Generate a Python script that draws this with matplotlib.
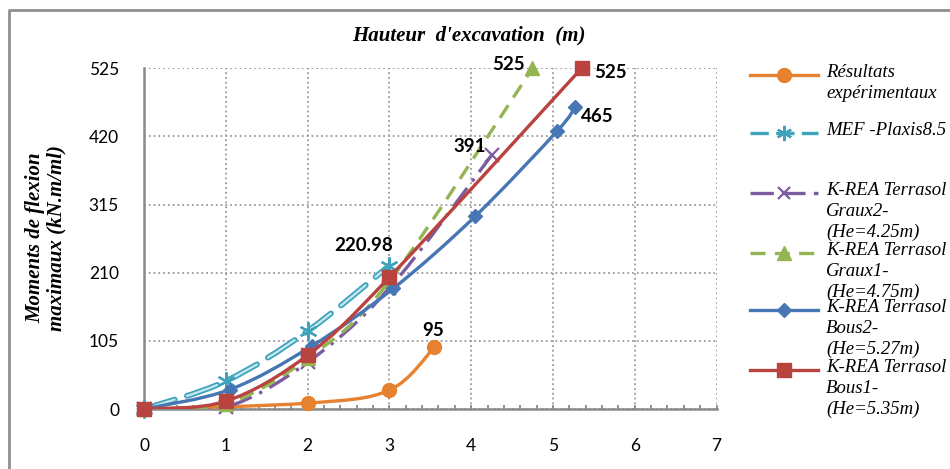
import numpy as np
import matplotlib
matplotlib.use('Agg')
import matplotlib.pyplot as plt
from matplotlib.path import Path
from matplotlib.patches import PathPatch
from matplotlib.lines import Line2D
from matplotlib.ticker import MultipleLocator

# %% data
exp_x = [0, 2, 3, 3.55]
exp_y = [0, 9, 29, 95]

mef_x = [0, 1, 2, 3]
mef_y = [0, 43, 120, 220.98]

graux2_x = [0, 1, 2, 3, 4.25]
graux2_y = [0, 3, 72, 186, 391]

graux1_x = [0, 1, 2, 3, 4.75]
graux1_y = [0, 8, 78, 197, 525]

bous2_x = [0, 1.05, 2.05, 3.05, 4.05, 5.05, 5.27]
bous2_y = [0, 30, 97, 186, 297, 428, 465]

bous1_x = [0, 1, 2, 3, 5.35]
bous1_y = [0, 12, 83, 203, 525]

legend_labels = ['Résultats\nexpérimentaux',
                 'MEF -Plaxis8.5',
                 'K-REA Terrasol\nGraux2-\n(He=4.25m)',
                 'K-REA Terrasol\nGraux1-\n(He=4.75m)',
                 'K-REA Terrasol\nBous2-\n(He=5.27m)',
                 'K-REA Terrasol\nBous1-\n(He=5.35m)']

c_orange = '#E5812F'
c_teal = '#3FA3BC'
c_teal_in = '#C6E9F1'
c_purple = '#7B5C9E'
c_green = '#93B552'
c_blue = '#4676B4'
c_red = '#B8433F'

W, H = 950, 469
SERIF = 'Liberation Serif'
SANS = 'Lato'


def smooth_path(xs, ys, t=1/6):
    # excel-like smoothed line: cubic bezier through every point
    n = len(xs)
    verts = [(xs[0], ys[0])]
    codes = [Path.MOVETO]
    for i in range(n - 1):
        a = i - 1 if i > 0 else i
        d = i + 2 if i + 2 < n else i + 1
        c1 = (xs[i] + (xs[i+1] - xs[a]) * t, ys[i] + (ys[i+1] - ys[a]) * t)
        c2 = (xs[i+1] - (xs[d] - xs[i]) * t, ys[i+1] - (ys[d] - ys[i]) * t)
        verts += [c1, c2, (xs[i+1], ys[i+1])]
        codes += [Path.CURVE4] * 3
    return Path(verts, codes)


def fx(x):
    return x / W


def fy(y):
    return 1 - y / H


fig = plt.figure(figsize=(9.5, 4.69), dpi=100)
ax = fig.add_axes([fx(144), fy(409), 572.5 / W, (409 - 68.3) / H])

# outer frame (left and top edges visible)
fig.add_artist(Line2D([fx(9), fx(9), fx(951)], [fy(470), fy(10), fy(10)],
                      transform=fig.transFigure, color='#8f8f8f', lw=2))

ax.set_xlim(0, 7)
ax.set_ylim(0, 525)
ax.xaxis.set_major_locator(MultipleLocator(1))
ax.xaxis.set_minor_locator(MultipleLocator(0.2))
ax.yaxis.set_major_locator(MultipleLocator(105))
ax.grid(True, which='major', color='#9a9a9a', ls=':', lw=1.3)
for s in ['top', 'right']:
    ax.spines[s].set_visible(False)
for s in ['left', 'bottom']:
    ax.spines[s].set_color('#8a8a8a')
    ax.spines[s].set_linewidth(1.8)
ax.tick_params(axis='x', which='both', direction='in', length=3, width=1.3,
               color='#8a8a8a', pad=21, labelsize=12.5)
ax.tick_params(axis='y', length=0, pad=18, labelsize=12.5)
for lab in ax.get_xticklabels() + ax.get_yticklabels():
    lab.set_fontfamily(SANS)

lw = 2.4
z = 3

# Résultats expérimentaux
ax.add_patch(PathPatch(smooth_path(exp_x, exp_y), fill=False, ec=c_orange, lw=lw, zorder=z))
ax.plot(exp_x, exp_y, 'o', color=c_orange, ms=10, zorder=z + 0.5, clip_on=False)
z += 1

# MEF Plaxis (double dashed line)
mp = smooth_path(mef_x, mef_y)
ax.add_patch(PathPatch(mp, fill=False, ec=c_teal, lw=4.2, ls=(0, (5.5, 2.2)),
                       capstyle='round', zorder=z))
ax.add_patch(PathPatch(mp, fill=False, ec=c_teal_in, lw=1.6, ls=(0, (14.4, 5.8)),
                       capstyle='round', zorder=z + 0.1))
ax.plot(mef_x, mef_y, ls='none', marker=(6, 2, 0), color=c_teal, ms=13, mew=1.6,
        zorder=z + 0.5, clip_on=False)
z += 1

# Graux2
ax.add_patch(PathPatch(smooth_path(graux2_x, graux2_y), fill=False, ec=c_purple, lw=lw,
                       ls=(0, (7, 2.5, 1, 2.5)), zorder=z))
ax.plot(graux2_x, graux2_y, 'x', color=c_purple, ms=10, mew=1.6, zorder=z + 0.5, clip_on=False)
z += 1

# Graux1
ax.add_patch(PathPatch(smooth_path(graux1_x, graux1_y), fill=False, ec=c_green, lw=lw,
                       ls=(0, (4.5, 2.8)), zorder=z))
ax.plot(graux1_x, graux1_y, '^', color=c_green, ms=9.5, zorder=z + 0.5, clip_on=False)
z += 1

# Bous2
ax.add_patch(PathPatch(smooth_path(bous2_x, bous2_y), fill=False, ec=c_blue, lw=lw, zorder=z))
ax.plot(bous2_x, bous2_y, 'D', color=c_blue, ms=7.5, zorder=z + 0.5, clip_on=False)
z += 1

# Bous1
ax.add_patch(PathPatch(smooth_path(bous1_x, bous1_y), fill=False, ec=c_red, lw=lw, zorder=z))
ax.plot(bous1_x, bous1_y, 's', color=c_red, ms=9.5, zorder=z + 0.5, clip_on=False)

# data labels
lab_kw = dict(textcoords='offset pixels', ha='center', va='center', fontsize=13.5,
              fontweight='bold', family=SANS, zorder=20, annotation_clip=False)
ax.annotate(f'{exp_y[-1]:g}', (exp_x[-1], exp_y[-1]), xytext=(-1, 17), **lab_kw)
ax.annotate(f'{mef_y[-1]:g}', (mef_x[-1], mef_y[-1]), xytext=(-26, 20), **lab_kw)
ax.annotate(f'{graux2_y[-1]:g}', (graux2_x[-1], graux2_y[-1]), xytext=(-22, 9), **lab_kw)
ax.annotate(f'{graux1_y[-1]:g}', (graux1_x[-1], graux1_y[-1]), xytext=(-24, 4), **lab_kw)
ax.annotate(f'{bous2_y[-1]:g}', (bous2_x[-1], bous2_y[-1]), xytext=(22, -9), **lab_kw)
ax.annotate(f'{bous1_y[-1]:g}', (bous1_x[-1], bous1_y[-1]), xytext=(29, -4), **lab_kw)

# titles
fig.text(fx(469), fy(35), "Hauteur  d'excavation  (m)", ha='center', va='center',
         family=SERIF, style='italic', weight='bold', fontsize=15)
fig.text(fx(46), fy(238), 'Moments de flexion\nmaximaux (kN.m/ml)', ha='center', va='center',
         rotation=90, family=SERIF, style='italic', weight='bold', fontsize=15,
         multialignment='center', linespacing=1.05)

# legend
leg_y = [75, 133, 193, 253, 310, 370]
leg_style = [
    dict(color=c_orange, ls='-', marker='o', ms=10),
    dict(color=c_teal, ls=(0, (5.5, 2.2)), marker=(6, 2, 0), ms=11, mew=1.6),
    dict(color=c_purple, ls=(0, (7, 2.5)), marker='x', ms=8, mew=1.6),
    dict(color=c_green, ls=(0, (4.5, 2.8)), marker='^', ms=9.5),
    dict(color=c_blue, ls='-', marker='D', ms=7.5),
    dict(color=c_red, ls='-', marker='s', ms=9.5),
]
for yy, st, txt in zip(leg_y, leg_style, legend_labels):
    fig.add_artist(Line2D([fx(750), fx(818)], [fy(yy), fy(yy)], transform=fig.transFigure,
                          lw=lw, **{k: v for k, v in st.items() if k not in ('marker', 'ms', 'mew')}))
    fig.add_artist(Line2D([fx(784)], [fy(yy)], transform=fig.transFigure, ls='none',
                          color=st['color'], marker=st['marker'], ms=st['ms'],
                          mew=st.get('mew', 1)))
    fig.text(fx(826), fy(yy - 11), txt, ha='left', va='top', family=SERIF, style='italic',
             fontsize=13.5, linespacing=1.28)

fig.savefig('out.png', dpi=100)
